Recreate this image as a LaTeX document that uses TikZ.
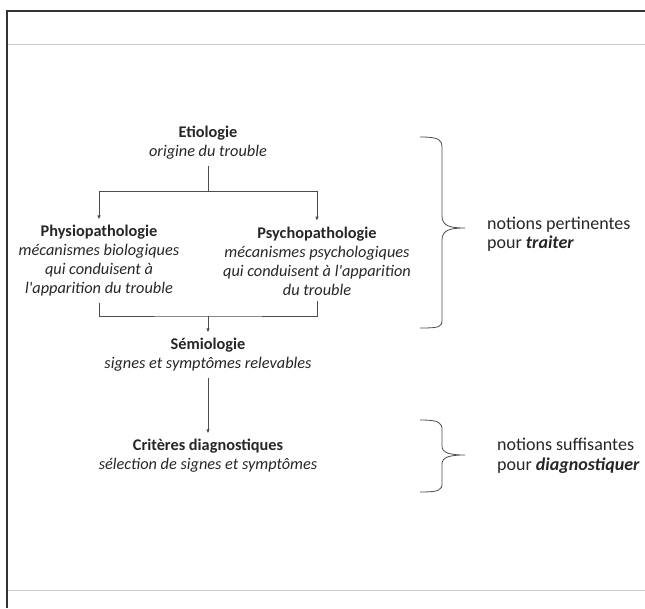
\documentclass[tikz,border=0pt]{standalone}
\usepackage{fontspec}
\setmainfont{Carlito}
\usetikzlibrary{arrows.meta, positioning}

\tikzset{
  bloc/.style={align=center, inner sep=0pt, outer sep=6pt, text=black!85},
  notion/.style={align=left, inner sep=0pt, anchor=west, text=black!85, font=\fontsize{18}{19.5}\selectfont},
  lien/.style={black!70, line width=0.8pt},
  fleche/.style={lien, -{Latex[length=4pt, width=3.5pt]}},
  accolade/.style={black!70, line width=0.8pt}
}

\begin{document}
\begin{tikzpicture}[x=1pt, y=1pt, font=\fontsize{16.3}{19}\selectfont]
    \useasboundingbox (0,0) rectangle (645,608);

    % cadre
    \draw[black!80, line width=1.5pt] (7,0) -- (7,597) -- (645,597);
    \draw[black!20] (8,564) -- (645,564);
    \draw[black!20] (8,18) -- (645,18);

    % blocs
    \node[bloc] (etio) at (208,465) {\textbf{Etiologie}\\\textit{origine du trouble}};
    \node[bloc] (physio) at (99,347) {\textbf{Physiopathologie}\\\textit{mécanismes biologiques}\\\textit{qui conduisent à}\\\textit{l\textquotesingle apparition du trouble}};
    \node[bloc] (psycho) at (317,347) {\textbf{Psychopathologie}\\\textit{mécanismes psychologiques}\\\textit{qui conduisent à l\textquotesingle apparition}\\\textit{du trouble}};
    \node[bloc] (semio) at (208,253) {\textbf{Sémiologie}\\\textit{signes et symptômes relevables}};
    \node[bloc] (crit) at (208,152) {\textbf{Critères diagnostiques}\\\textit{sélection de signes et symptômes}};

    % liens
    \coordinate (etioB) at (208,417);
    \coordinate (jonction) at (208,292);
    \draw[lien] (etio) -- (etioB);
    \draw[fleche] (etioB) -| (physio);
    \draw[fleche] (etioB) -| (psycho);
    \draw[lien] (physio) |- (jonction) -| (psycho);
    \draw[fleche] (jonction) -- (semio);
    \draw[fleche] (semio) -- (crit);

    % accolades
    \draw[accolade] (420,471) .. controls (440,471) and (442,468) .. (442,460) -- (442,392)
        .. controls (442,382) and (450,380) .. (465,380)
        .. controls (450,380) and (442,378) .. (442,368) -- (442,288)
        .. controls (442,281) and (440,280) .. (420,280);
    \draw[accolade] (420,188) .. controls (440,188) and (442,185) .. (442,178) -- (442,162)
        .. controls (442,155) and (450,153) .. (465,153)
        .. controls (450,153) and (442,151) .. (442,144) -- (442,125)
        .. controls (442,118) and (440,116) .. (420,116);

    \node[notion] (traiter) at (487,374) {notions pertinentes\\pour \textbf{\textit{traiter}}};
    \node[notion] (diag) at (497,152) {notions suffisantes\\pour \textbf{\textit{diagnostiquer}}};
\end{tikzpicture}
\end{document}
